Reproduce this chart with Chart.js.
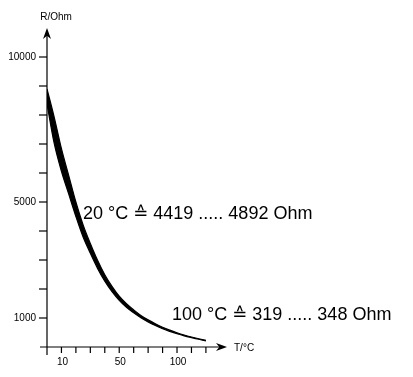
<!DOCTYPE html>
<html>
<head>
<meta charset="utf-8">
<script src="https://cdn.jsdelivr.net/npm/chart.js@4.4.0/dist/chart.umd.min.js"></script>
<style>
  html, body { margin: 0; padding: 0; background: #fff; }
  #wrap { width: 413px; height: 377px; }
</style>
</head>
<body>
<div id="wrap"><canvas id="ntcChart"></canvas></div>
<script>
// x axis is drawn in "tick steps" (the sketch is not to scale), labels sit on some of them
const xTicks = [1, 2, 3, 4, 5, 6, 7, 8, 9, 10, 11];
const xTickLabels = { 1: "10", 5: "50", 9: "100" };
const yTicks = [1000, 2000, 3000, 4000, 5000, 6000, 7000, 8000, 9000, 10000];
const yTickLabels = { 1000: "1000", 5000: "5000", 10000: "10000" };

// tolerance band of the NTC curve (upper and lower resistance, Ohm)
const xPos = [0, 0.5, 1, 1.5, 2, 2.5, 3, 3.5, 4, 4.5, 5, 5.5, 6, 6.5, 7, 7.5, 8, 8.5, 9, 9.5, 10, 10.5, 11];
const rMax = [8900, 7920, 6840, 5920, 5000, 4210, 3570, 2990, 2490, 2090, 1750, 1490, 1280, 1090, 935, 800, 680, 580, 492, 414, 346, 284, 226];
const rMin = [8380, 7020, 6060, 5280, 4500, 3790, 3230, 2710, 2270, 1910, 1610, 1370, 1180, 1010, 865, 740, 630, 540, 458, 386, 324, 266, 214];

const notes = [
  { text: "20 \u00B0C \u2259 4419 ..... 4892 Ohm", x: 83, y: 214 },
  { text: "100 \u00B0C \u2259 319 ..... 348 Ohm", x: 172, y: 315 },
];

const FONT = "'Liberation Sans', Arial, 'DejaVu Sans', sans-serif";

function arrowHead(ctx, tx, ty, dx, dy) {
  // dx,dy = unit direction of the arrow
  const len = 11, w = 4;
  const px = -dy, py = dx;
  ctx.beginPath();
  ctx.moveTo(tx, ty);
  ctx.lineTo(tx - dx * len + px * w, ty - dy * len + py * w);
  ctx.lineTo(tx - dx * len * 0.7, ty - dy * len * 0.7);
  ctx.lineTo(tx - dx * len - px * w, ty - dy * len - py * w);
  ctx.closePath();
  ctx.fill();
}

const axesPlugin = {
  id: "sketchAxes",
  beforeDatasetsDraw(chart) {
    const { ctx, chartArea: a, scales } = chart;
    const x0 = scales.x.getPixelForValue(0);
    const y0 = scales.y.getPixelForValue(0);
    ctx.save();
    ctx.strokeStyle = "#000";
    ctx.fillStyle = "#000";
    ctx.lineWidth = 1.2;

    // axis lines, crossing slightly at the origin
    ctx.beginPath();
    ctx.moveTo(x0, y0 + 8);
    ctx.lineTo(x0, a.top + 6);
    ctx.moveTo(x0 - 7, y0);
    ctx.lineTo(a.right - 6, y0);
    ctx.stroke();
    arrowHead(ctx, x0, a.top, 0, -1);
    arrowHead(ctx, a.right, y0, 1, 0);

    // y ticks
    ctx.font = "10px " + FONT;
    ctx.textAlign = "right";
    ctx.textBaseline = "middle";
    yTicks.forEach((v) => {
      const py = scales.y.getPixelForValue(v);
      ctx.beginPath();
      ctx.moveTo(x0 - 8, py);
      ctx.lineTo(x0, py);
      ctx.stroke();
      if (yTickLabels[v]) ctx.fillText(yTickLabels[v], x0 - 11, py);
    });

    // x ticks
    ctx.textAlign = "center";
    ctx.textBaseline = "top";
    xTicks.forEach((v) => {
      const px = scales.x.getPixelForValue(v);
      ctx.beginPath();
      ctx.moveTo(px, y0);
      ctx.lineTo(px, y0 + 6);
      ctx.stroke();
      if (xTickLabels[v]) ctx.fillText(xTickLabels[v], px + 1, y0 + 10);
    });

    // axis titles
    ctx.textAlign = "center";
    ctx.textBaseline = "middle";
    ctx.fillText("R/Ohm", x0 + 9, 17);
    ctx.textAlign = "left";
    ctx.fillText("T/\u00B0C", a.right + 7, y0 + 1);
    ctx.restore();
  },
  afterDraw(chart) {
    const { ctx } = chart;
    ctx.save();
    ctx.fillStyle = "#000";
    ctx.font = "18px " + FONT;
    ctx.textAlign = "left";
    ctx.textBaseline = "middle";
    notes.forEach((n) => ctx.fillText(n.text, n.x, n.y));
    ctx.restore();
  },
};

const ctxNtc = document.getElementById("ntcChart").getContext("2d");
new Chart(ctxNtc, {
  type: "line",
  data: {
    datasets: [
      {
        label: "R max",
        data: xPos.map((x, i) => ({ x: x, y: rMax[i] })),
        borderColor: "#000",
        backgroundColor: "#000",
        borderWidth: 1.2,
        pointRadius: 0,
        cubicInterpolationMode: "monotone",
        fill: "+1",
      },
      {
        label: "R min",
        data: xPos.map((x, i) => ({ x: x, y: rMin[i] })),
        borderColor: "#000",
        borderWidth: 1.2,
        pointRadius: 0,
        cubicInterpolationMode: "monotone",
        fill: false,
      },
    ],
  },
  options: {
    responsive: true,
    maintainAspectRatio: false,
    animation: false,
    devicePixelRatio: 1,
    layout: { padding: { left: 47, right: 186, top: 28, bottom: 30 } },
    scales: {
      x: { type: "linear", min: 0, max: 12.46, display: false },
      y: { type: "linear", min: 0, max: 11000, display: false },
    },
    plugins: {
      legend: { display: false },
      tooltip: { enabled: false },
    },
  },
  plugins: [axesPlugin],
});
</script>
</body>
</html>
